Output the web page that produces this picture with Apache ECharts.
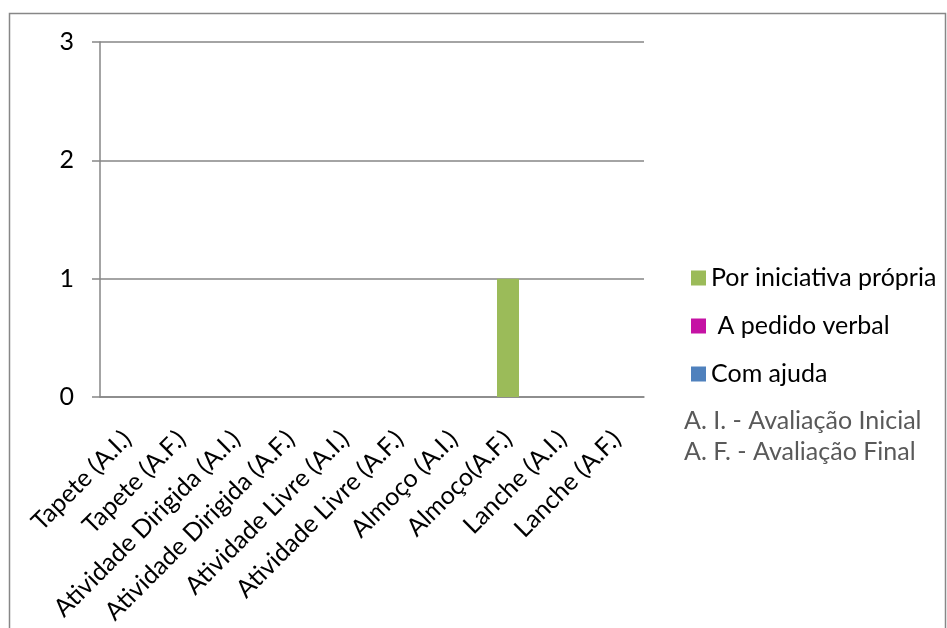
<!DOCTYPE html>
<html><head><meta charset="utf-8">
<script src="https://cdn.jsdelivr.net/npm/echarts@6/dist/echarts.min.js"></script>
<style>html,body{margin:0;padding:0;background:#fff}#c{width:947px;height:628px}</style>
</head><body><div id="c"></div>
<script>
var categories = ['Tapete (A.I.)','Tapete (A.F.)','Atividade Dirigida (A.I.)','Atividade Dirigida (A.F.)','Atividade Livre (A.I.)','Atividade Livre (A.F.)','Almoço (A.I.)','Almoço(A.F.)','Lanche (A.I.)','Lanche (A.F.)'];
var seriesNames = ['Por iniciativa própria',' A pedido verbal','Com ajuda'];
var iniciativa = [0,0,0,0,0,0,0,1,0,0];
var pedidoVerbal = [0,0,0,0,0,0,0,0,0,0];
var comAjuda = [0,0,0,0,0,0,0,0,0,0];
var yTicks = [0,1,2,3];
var notes = ['A. I. - Avaliação Inicial','A. F. - Avaliação Final'];

var FONT = 'Lato';
var grey = '#868686';
var chart = echarts.init(document.getElementById('c'), null, {renderer:'canvas'});
chart.setOption({
  animation:false,
  backgroundColor:'#fff',
  textStyle:{fontFamily:FONT},
  grid:{left:100,right:303,top:42,bottom:231,containLabel:false},
  legend:{
    orient:'vertical', left:686, top:260, itemWidth:15, itemHeight:15, itemGap:22,
    icon:'rect',
    textStyle:{fontFamily:FONT,fontSize:25,color:'#000',lineHeight:26},
    data:seriesNames
  },
  xAxis:{
    type:'category', data:categories,
    axisLine:{lineStyle:{color:grey,width:1.5}},
    axisTick:{length:6,lineStyle:{color:grey,width:1.5}},
    axisLabel:{rotate:45,interval:0,margin:38,fontFamily:FONT,fontSize:25,color:'#000'}
  },
  yAxis:{
    type:'value', min:yTicks[0], max:yTicks[yTicks.length-1], interval:1,
    axisLine:{show:true,lineStyle:{color:grey,width:1.5}},
    axisTick:{show:true,length:8,lineStyle:{color:grey,width:1.5}},
    splitLine:{lineStyle:{color:grey,width:1.5}},
    axisLabel:{margin:26,fontFamily:FONT,fontSize:25,color:'#000'}
  },
  series:[
    {name:seriesNames[0],type:'bar',stack:'s',data:iniciativa,barWidth:22,itemStyle:{color:'#9BBB59'}},
    {name:seriesNames[1],type:'bar',stack:'s',data:pedidoVerbal,barWidth:22,itemStyle:{color:'#C512A4'}},
    {name:seriesNames[2],type:'bar',stack:'s',data:comAjuda,barWidth:22,itemStyle:{color:'#4F81BD'}}
  ],
  graphic:[
    {type:'rect',shape:{x:9.5,y:13.5,width:936,height:620},style:{fill:null,stroke:'#878787',lineWidth:1.5},silent:true},
    {type:'text',left:684,top:408,style:{text:notes[0],fontFamily:FONT,fontSize:25,fill:'#595959'}},
    {type:'text',left:684,top:439,style:{text:notes[1],fontFamily:FONT,fontSize:25,fill:'#595959'}}
  ]
});
</script></body></html>
